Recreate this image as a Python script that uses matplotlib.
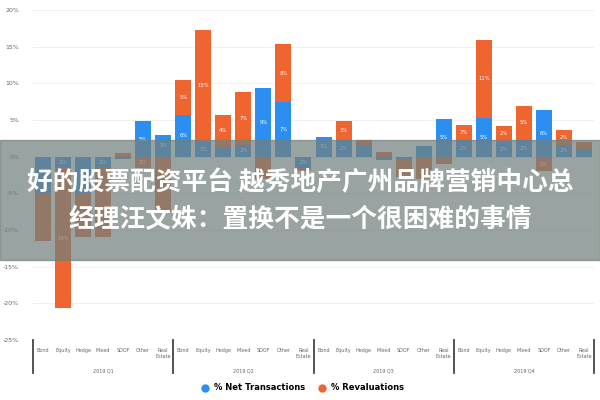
import numpy as np
import matplotlib
matplotlib.use("Agg")
import matplotlib.pyplot as plt
from matplotlib.patches import Rectangle
from matplotlib.lines import Line2D
import matplotlib.transforms as mtransforms

# data (values in %)
categories = ["Bond", "Equity", "Hedge", "Mixed", "SDOF", "Other", "Real\nEstate"]
quarters = ["2019 Q1", "2019 Q2", "2019 Q3", "2019 Q4"]

net_q1 = [-5.0, -1.5, -5.0, -1.5, -0.3, 4.8, 3.0]
net_q2 = [5.7, 2.0, 1.3, 1.6, 9.3, 7.4, -1.5]
net_q3 = [2.7, 2.3, 1.4, -0.4, -0.3, 1.4, 5.2]
net_q4 = [2.3, 5.3, 2.0, 2.3, 6.4, 1.6, 1.0]

reval_q1 = [-6.5, -19.2, -6.0, -9.5, 0.5, -1.5, -7.5]
reval_q2 = [4.7, 15.3, 4.4, 7.2, -3.0, 8.0, -0.5]
reval_q3 = [0.0, 2.6, 0.9, 0.6, -2.5, -3.0, -1.0]
reval_q4 = [2.0, 10.6, 2.2, 4.6, -2.0, 2.0, 1.0]

banner_lines = ["好的股票配资平台 越秀地产广州品牌营销中心总",
                "经理汪文姝：置换不是一个很困难的事情"]

net = np.array(net_q1 + net_q2 + net_q3 + net_q4)
reval = np.array(reval_q1 + reval_q2 + reval_q3 + reval_q4)

blue = "#2b8ef0"
orange = "#ee6530"

fig = plt.figure(figsize=(6, 4), dpi=100)
ax = fig.add_axes([0.055, 0.15, 0.935, 0.825])

x = np.arange(len(net))
w = 0.8

# stack: blue first, orange on top in the same sign direction
pos_base = np.where(net > 0, net, 0)
neg_base = np.where(net < 0, net, 0)
reval_bottom = np.where(reval >= 0, pos_base, neg_base)

ax.bar(x, net, w, color=blue, zorder=2)
ax.bar(x, reval, w, bottom=reval_bottom, color=orange, zorder=2)

for i in range(len(x)):
    for val, bot in ((net[i], 0), (reval[i], reval_bottom[i])):
        ypos = bot + val / 2
        # labels hidden behind the banner text are skipped
        if abs(val) >= 1.5 and not (-10 < ypos < -1):
            ax.text(x[i], ypos, f"{abs(val):.0f}%", ha="center",
                    va="center", fontsize=3.8, color="white", zorder=3)

ax.set_xlim(-0.5, len(x) - 0.5)
ax.set_ylim(-25, 20)
ax.set_yticks(np.arange(-25, 21, 5))
ax.set_yticklabels([f"{v}%" for v in range(-25, 21, 5)], fontsize=4.5, color="#666666")
ax.tick_params(axis="y", length=0, pad=10)
ax.set_xticks([])
ax.grid(axis="y", color="#eeeeee", linewidth=0.6, zorder=0)
for s in ax.spines.values():
    s.set_visible(False)

trans = mtransforms.blended_transform_factory(ax.transData, ax.transAxes)
for i, xi in enumerate(x):
    ax.text(xi, -0.025, categories[i % 7], transform=trans, ha="center", va="top",
            fontsize=3.5, color="#666666", linespacing=1.1)
for g, q in enumerate(quarters):
    ax.text(g * 7 + 3, -0.085, q, transform=trans, ha="center", va="top",
            fontsize=3.5, color="#666666")
for g in range(5):
    ax.add_line(Line2D([g * 7 - 0.5, g * 7 - 0.5], [0, -0.1], transform=trans,
                       color="#444444", linewidth=1.3, clip_on=False))

handles = [Line2D([], [], marker="o", ls="", color=blue, markersize=5),
           Line2D([], [], marker="o", ls="", color=orange, markersize=5)]
fig.legend(handles, ["% Net Transactions", "% Revaluations"], loc="center",
           bbox_to_anchor=(0.5, 0.03), ncol=2, frameon=False,
           handletextpad=0.1, columnspacing=1.0,
           prop={"weight": "bold", "size": 6})

# overlay banner
fig.patches.append(Rectangle((0, 0.35), 1, 0.3, transform=fig.transFigure,
                             color="#72807d", alpha=0.72, zorder=5))
fig.text(0.5, 0.543, banner_lines[0], ha="center", va="center", fontsize=18.5,
         color="white", weight="bold", family=["Noto Sans CJK SC", "DejaVu Sans"], zorder=6)
fig.text(0.5, 0.452, banner_lines[1], ha="center", va="center", fontsize=18.5,
         color="white", weight="bold", family=["Noto Sans CJK SC", "DejaVu Sans"], zorder=6)

fig.savefig("out.png", dpi=100)
